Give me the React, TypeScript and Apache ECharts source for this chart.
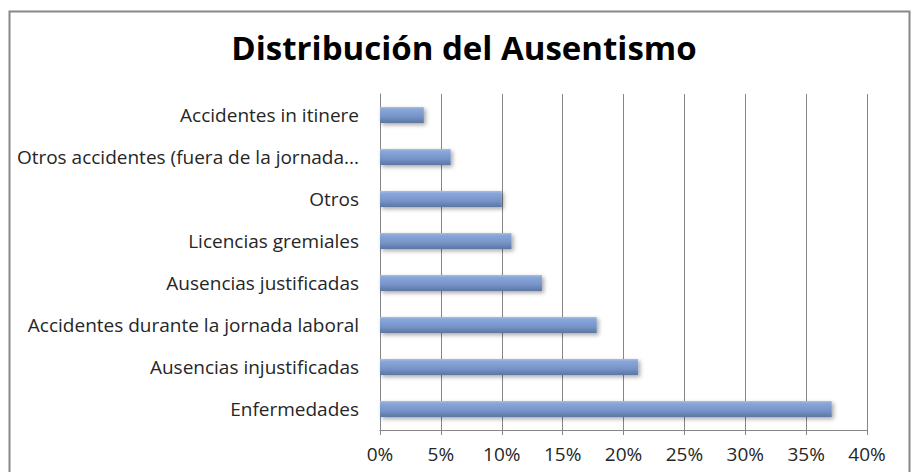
import React, { useEffect, useRef } from "react";
import * as echarts from "echarts";

const categories = [
  "Accidentes in itinere",
  "Otros accidentes (fuera de la jornada...",
  "Otros",
  "Licencias gremiales",
  "Ausencias justificadas",
  "Accidentes durante la jornada laboral",
  "Ausencias injustificadas",
  "Enfermedades",
];
const values = [0.036, 0.058, 0.1, 0.108, 0.133, 0.178, 0.212, 0.371];
const titleText = "Distribución del Ausentismo";

export default function App() {
  const ref = useRef<HTMLDivElement>(null);
  useEffect(() => {
    if (!ref.current) return;
    const chart = echarts.init(ref.current, undefined, { renderer: "svg" });
    const font = "'Open Sans', 'Noto Sans', sans-serif";
    chart.setOption({
      animation: false,
      backgroundColor: "#ffffff",
      title: {
        text: titleText,
        left: 459,
        textAlign: "center",
        top: 26,
        textStyle: { fontFamily: font, fontWeight: "bold", fontSize: 33, color: "#000000" },
      },
      graphic: [
        {
          type: "rect",
          shape: { x: 9.5, y: 11.5, width: 900, height: 480 },
          style: { fill: "none", stroke: "#878787", lineWidth: 2 },
          silent: true,
        },
      ],
      grid: { left: 380, right: 48, top: 94, bottom: 42, containLabel: false },
      xAxis: {
        type: "value",
        min: 0,
        max: 0.4,
        interval: 0.05,
        axisLine: { show: true, lineStyle: { color: "#868686", width: 1 } },
        axisTick: { show: true, length: 5, lineStyle: { color: "#868686" } },
        splitLine: { show: true, lineStyle: { color: "#868686", width: 1 } },
        axisLabel: {
          margin: 14,
          color: "#262626",
          fontFamily: font,
          fontSize: 19,
          formatter: (v: number) => Math.round(v * 100) + "%",
        },
      },
      yAxis: {
        type: "category",
        data: categories,
        inverse: true,
        axisLine: { show: true, lineStyle: { color: "#868686", width: 1 } },
        axisTick: { show: false },
        splitLine: { show: false },
        axisLabel: {
          margin: 21,
          color: "#262626",
          fontFamily: font,
          fontSize: 19,
        },
      },
      series: [
        {
          type: "bar",
          data: values,
          barWidth: 16,
          itemStyle: {
            color: new echarts.graphic.LinearGradient(0, 0, 0, 1, [
              { offset: 0, color: "#a6bee6" },
              { offset: 0.15, color: "#88a6d9" },
              { offset: 0.6, color: "#7794c9" },
              { offset: 1, color: "#5c76a3" },
            ]),
            shadowColor: "rgba(0,0,0,0.35)",
            shadowBlur: 4,
            shadowOffsetX: 2,
            shadowOffsetY: 2,
          },
        },
      ],
    });
    return () => chart.dispose();
  }, []);
  return <div ref={ref} style={{ width: 915, height: 472, position: "absolute", left: 0, top: 0 }} />;
}
